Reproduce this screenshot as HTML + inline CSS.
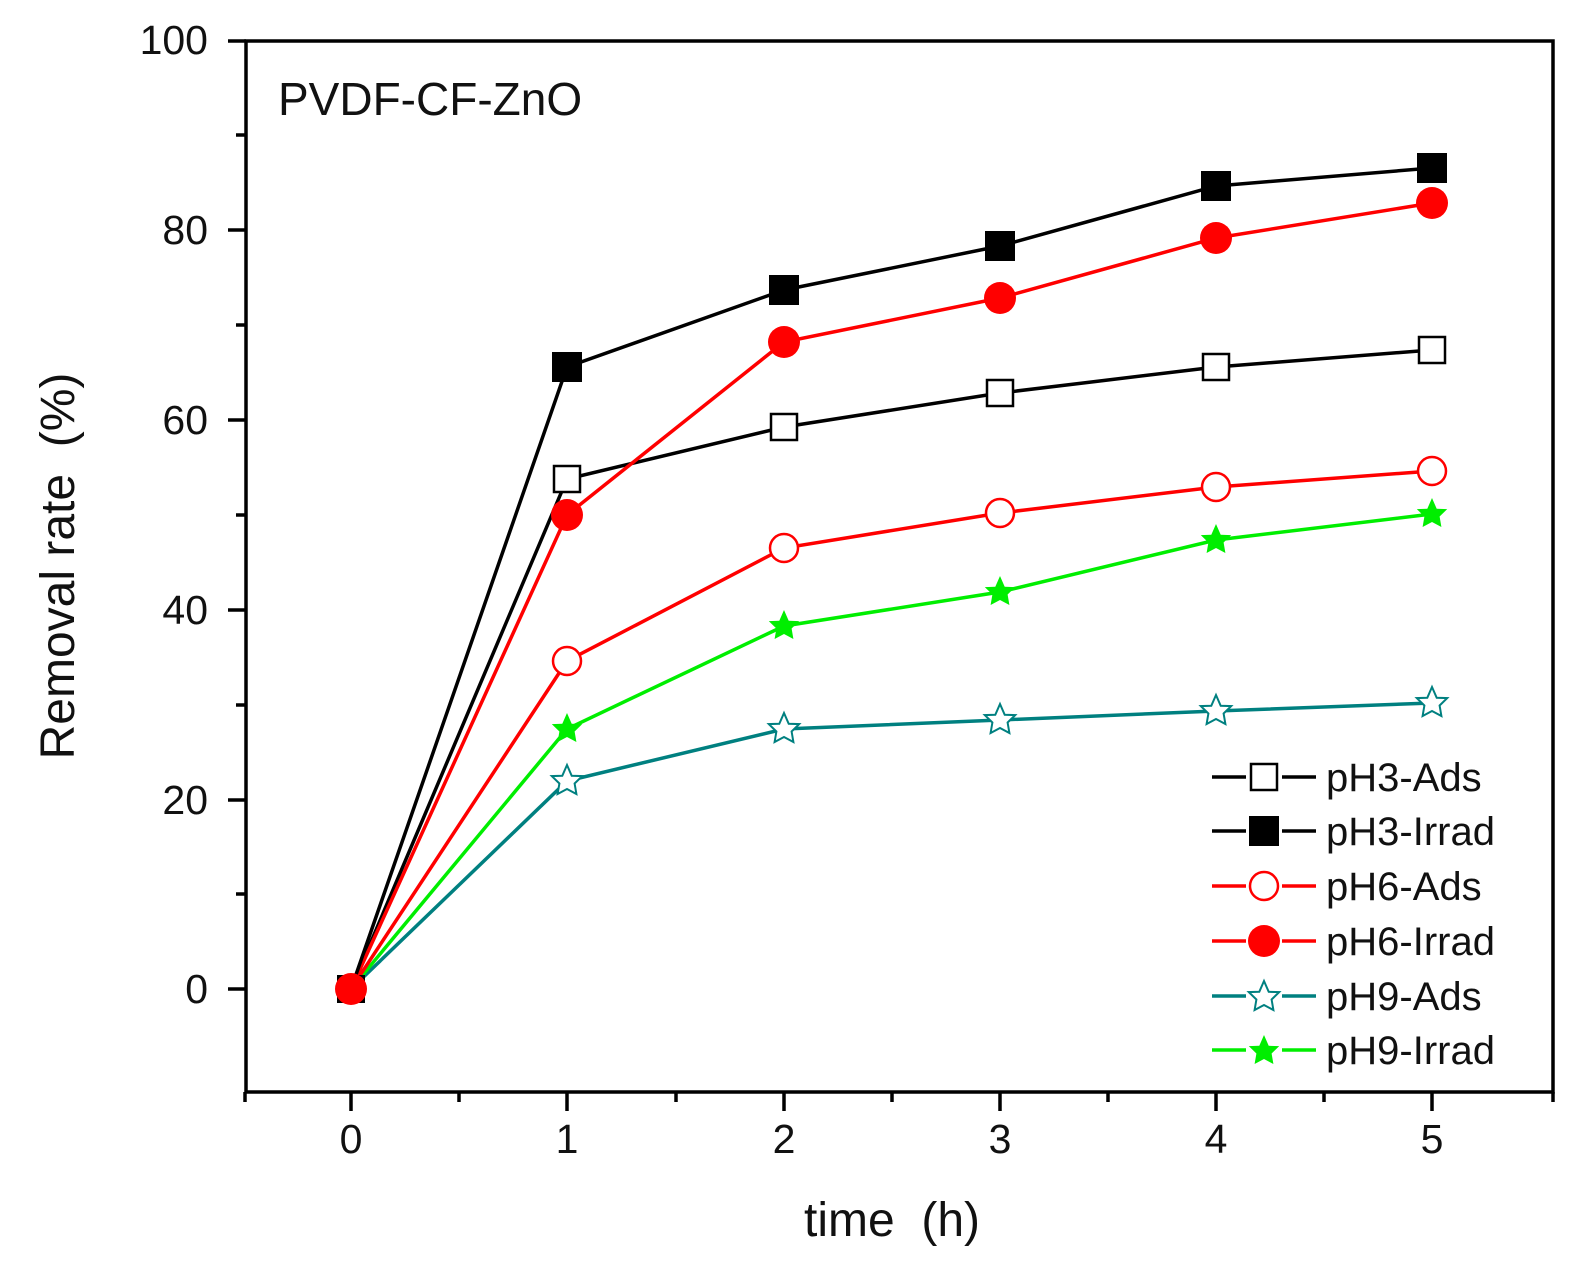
<!DOCTYPE html>
<html><head><meta charset="utf-8"><style>body{margin:0;background:#fff}svg{display:block}</style></head>
<body>
<svg width="1582" height="1275" viewBox="0 0 1582 1275" xmlns="http://www.w3.org/2000/svg" font-family="Liberation Sans, Arial, sans-serif">
<defs>
<path id="star" d="M0,-16 L4.7,-5.2 L15.2,-4.9 L7.6,2.5 L9.4,13 L0,8 L-9.4,13 L-7.6,2.5 L-15.2,-4.9 L-4.7,-5.2 Z"/>
</defs>
<rect width="1582" height="1275" fill="#fff"/>
<rect x="246" y="41" width="1307" height="1051" fill="none" stroke="#000" stroke-width="3.5"/>
<g stroke="#000" stroke-width="3.5">
<line x1="228" y1="41" x2="246" y2="41"/>
<line x1="228" y1="230" x2="246" y2="230"/>
<line x1="228" y1="420" x2="246" y2="420"/>
<line x1="228" y1="610" x2="246" y2="610"/>
<line x1="228" y1="800" x2="246" y2="800"/>
<line x1="228" y1="989" x2="246" y2="989"/>
<line x1="236" y1="135" x2="246" y2="135"/>
<line x1="236" y1="325" x2="246" y2="325"/>
<line x1="236" y1="515" x2="246" y2="515"/>
<line x1="236" y1="705" x2="246" y2="705"/>
<line x1="236" y1="894" x2="246" y2="894"/>
<line x1="351" y1="1092" x2="351" y2="1111"/>
<line x1="567" y1="1092" x2="567" y2="1111"/>
<line x1="784" y1="1092" x2="784" y2="1111"/>
<line x1="1000" y1="1092" x2="1000" y2="1111"/>
<line x1="1216" y1="1092" x2="1216" y2="1111"/>
<line x1="1432" y1="1092" x2="1432" y2="1111"/>
<line x1="245" y1="1092" x2="245" y2="1102"/>
<line x1="459" y1="1092" x2="459" y2="1102"/>
<line x1="676" y1="1092" x2="676" y2="1102"/>
<line x1="892" y1="1092" x2="892" y2="1102"/>
<line x1="1108" y1="1092" x2="1108" y2="1102"/>
<line x1="1324" y1="1092" x2="1324" y2="1102"/>
<line x1="1553" y1="1092" x2="1553" y2="1102"/>
</g>
<g font-size="41" fill="#111" text-anchor="end">
<text x="208" y="54">100</text>
<text x="208" y="244">80</text>
<text x="208" y="434">60</text>
<text x="208" y="624">40</text>
<text x="208" y="814">20</text>
<text x="208" y="1003">0</text>
</g>
<g font-size="41" fill="#111" text-anchor="middle">
<text x="351" y="1153">0</text>
<text x="567" y="1153">1</text>
<text x="784" y="1153">2</text>
<text x="1000" y="1153">3</text>
<text x="1216" y="1153">4</text>
<text x="1432" y="1153">5</text>
</g>
<text x="892" y="1236" font-size="48" text-anchor="middle" fill="#111">time&#160;&#160;(h)</text>
<text transform="translate(74,566) rotate(-90)" font-size="48" text-anchor="middle" fill="#111">Removal rate&#160;&#160;(%)</text>
<text x="278" y="115" font-size="46" fill="#111">PVDF-CF-ZnO</text>
<g fill="none" stroke-width="3.5">
<polyline stroke="#008080" points="351,989 567,781 784,729 1000,720 1216,711 1432,703"/>
<polyline stroke="#00ee00" points="351,989 567,729 784,626 1000,592 1216,540 1432,514"/>
<polyline stroke="#ff0000" points="351,989 567,661 784,548 1000,513 1216,487 1432,471"/>
<polyline stroke="#000" points="351,989 567,479 784,427 1000,393 1216,367 1432,350"/>
<polyline stroke="#ff0000" points="351,989 567,515 784,342 1000,298 1216,238 1432,203"/>
<polyline stroke="#000" points="351,989 567,367 784,290 1000,246 1216,186 1432,168"/>
</g>
<g fill="#fff" stroke="#008080" stroke-width="2">
<use href="#star" x="567" y="781"/><use href="#star" x="784" y="729"/><use href="#star" x="1000" y="720"/><use href="#star" x="1216" y="711"/><use href="#star" x="1432" y="703"/>
</g>
<g fill="#00ee00">
<use href="#star" x="567" y="729"/><use href="#star" x="784" y="626"/><use href="#star" x="1000" y="592"/><use href="#star" x="1216" y="540"/><use href="#star" x="1432" y="514"/>
</g>
<g fill="#fff" stroke="#ff0000" stroke-width="2.5">
<circle cx="567" cy="661" r="14"/><circle cx="784" cy="548" r="14"/><circle cx="1000" cy="513" r="14"/><circle cx="1216" cy="487" r="14"/><circle cx="1432" cy="471" r="14"/>
</g>
<g fill="#fff" stroke="#000" stroke-width="2.5">
<rect x="554" y="466" width="26" height="26"/><rect x="771" y="414" width="26" height="26"/><rect x="987" y="380" width="26" height="26"/><rect x="1203" y="354" width="26" height="26"/><rect x="1419" y="337" width="26" height="26"/>
</g>
<g fill="#ff0000">
<circle cx="567" cy="515" r="16"/><circle cx="784" cy="342" r="16"/><circle cx="1000" cy="298" r="16"/><circle cx="1216" cy="238" r="16"/><circle cx="1432" cy="203" r="16"/>
</g>
<g fill="#000">
<rect x="552" y="352" width="30" height="30"/><rect x="769" y="275" width="30" height="30"/><rect x="985" y="231" width="30" height="30"/><rect x="1201" y="171" width="30" height="30"/><rect x="1417" y="153" width="30" height="30"/>
<rect x="337" y="975" width="28" height="28"/>
</g>
<circle cx="351" cy="989" r="16" fill="#ff0000"/>
<g stroke-width="3.5">
<line x1="1212" y1="777" x2="1246" y2="777" stroke="#000"/><line x1="1282" y1="777" x2="1316" y2="777" stroke="#000"/>
<line x1="1212" y1="831" x2="1246" y2="831" stroke="#000"/><line x1="1282" y1="831" x2="1316" y2="831" stroke="#000"/>
<line x1="1212" y1="886" x2="1246" y2="886" stroke="#f00"/><line x1="1282" y1="886" x2="1316" y2="886" stroke="#f00"/>
<line x1="1212" y1="941" x2="1246" y2="941" stroke="#f00"/><line x1="1282" y1="941" x2="1316" y2="941" stroke="#f00"/>
<line x1="1212" y1="996" x2="1246" y2="996" stroke="#008080"/><line x1="1282" y1="996" x2="1316" y2="996" stroke="#008080"/>
<line x1="1212" y1="1050" x2="1246" y2="1050" stroke="#00ee00"/><line x1="1282" y1="1050" x2="1316" y2="1050" stroke="#00ee00"/>
</g>
<rect x="1251" y="764" width="26" height="26" fill="#fff" stroke="#000" stroke-width="2.5"/>
<rect x="1249" y="816" width="30" height="30" fill="#000"/>
<circle cx="1264" cy="886" r="14" fill="#fff" stroke="#f00" stroke-width="2.5"/>
<circle cx="1264" cy="941" r="16" fill="#f00"/>
<use href="#star" x="1264" y="997" fill="#fff" stroke="#008080" stroke-width="2"/>
<use href="#star" x="1264" y="1051" fill="#00ee00"/>
<g font-size="40" fill="#111">
<text x="1326" y="791">pH3-Ads</text>
<text x="1326" y="845">pH3-Irrad</text>
<text x="1326" y="900">pH6-Ads</text>
<text x="1326" y="955">pH6-Irrad</text>
<text x="1326" y="1010">pH9-Ads</text>
<text x="1326" y="1064">pH9-Irrad</text>
</g>
</svg>
</body></html>
